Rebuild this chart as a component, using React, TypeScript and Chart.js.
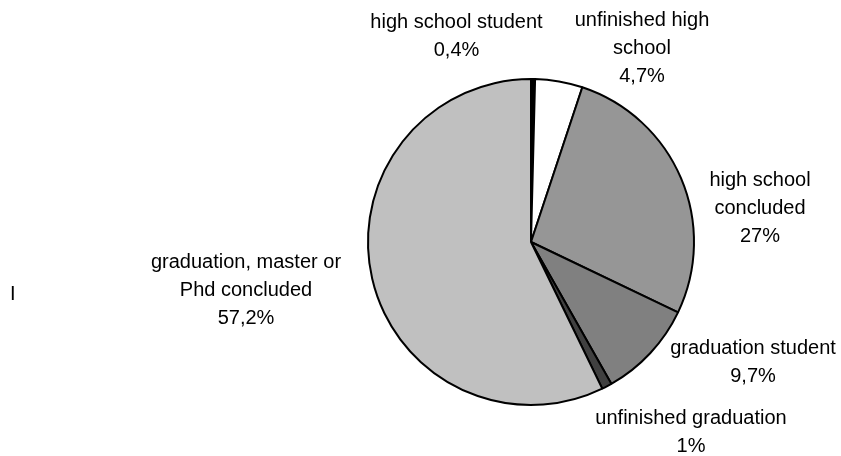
import React, { useEffect, useRef } from "react";
import { Chart, registerables } from "chart.js";

Chart.register(...registerables);

// Categories (as wrapped label lines), values (percent), slice fills
const categories: string[][] = [
  ["high school student"],
  ["unfinished high", "school"],
  ["high school", "concluded"],
  ["graduation student"],
  ["unfinished graduation"],
  ["graduation, master or", "Phd concluded"],
];
const values: number[] = [0.4, 4.7, 27, 9.7, 1, 57.2];
const sliceColors: string[] = ["#000000", "#ffffff", "#969696", "#808080", "#404040", "#c0c0c0"];

// Label anchor offsets (first line centre) relative to the pie centre
const labelOffsets: [number, number][] = [
  [-74.5, -219.5],
  [111, -221.5],
  [229, -62],
  [222, 106],
  [160, 176],
  [-285, 20],
];

const FONT = '20px "Liberation Sans", Arial, sans-serif';
const LINE_H = 28;

const fmt = (v: number) => String(v).replace(".", ",") + "%";

const labelPlugin = {
  id: "outerLabels",
  afterDraw(chart: any) {
    const ctx = chart.ctx as CanvasRenderingContext2D;
    const meta = chart.getDatasetMeta(0);
    ctx.save();
    ctx.font = FONT;
    ctx.fillStyle = "#000000";
    ctx.textAlign = "center";
    ctx.textBaseline = "middle";
    meta.data.forEach((arc: any, i: number) => {
      const lines = [...categories[i], fmt(values[i])];
      const [dx, dy] = labelOffsets[i];
      lines.forEach((t, j) => {
        ctx.fillText(t, arc.x + dx, arc.y + dy + j * LINE_H);
      });
    });
    // stray glyph at left of the original picture
    ctx.textAlign = "left";
    ctx.fillText("I", 10, 294);
    ctx.restore();
  },
};

export default function App() {
  const ref = useRef<HTMLCanvasElement | null>(null);
  useEffect(() => {
    if (!ref.current) return;
    const chart = new Chart(ref.current, {
      type: "pie",
      data: {
        labels: categories.map((c) => c.join(" ")),
        datasets: [
          {
            data: values,
            backgroundColor: sliceColors,
            borderColor: "#000000",
            borderWidth: 2,
          },
        ],
      },
      options: {
        animation: false,
        responsive: false,
        radius: 163,
        layout: { padding: { left: 221, right: 0, top: 28, bottom: 0 } },
        plugins: {
          legend: { display: false },
          tooltip: { enabled: false },
        },
      } as any,
      plugins: [labelPlugin],
    });
    return () => chart.destroy();
  }, []);
  return (
    <div style={{ position: "fixed", left: 0, top: 0, width: 841, height: 456, background: "#fff" }}>
      <canvas ref={ref} width={841} height={456} style={{ display: "block" }} />
    </div>
  );
}
